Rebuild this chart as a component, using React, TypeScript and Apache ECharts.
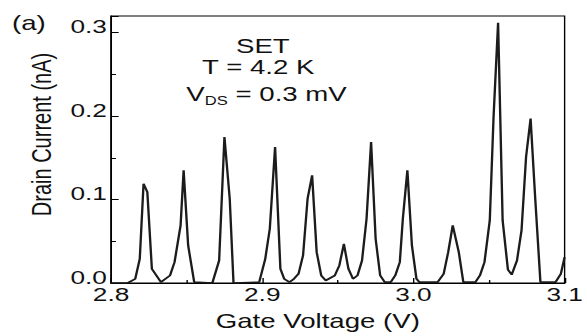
import React, { useEffect, useRef } from "react";
import * as echarts from "echarts";

// Gate voltage (V) and drain current (nA)
const voltage = [
  2.8, 2.811, 2.816, 2.819, 2.8215, 2.824, 2.827, 2.833, 2.839, 2.842, 2.846, 2.848, 2.851, 2.855,
  2.867, 2.8715, 2.875, 2.8785, 2.881, 2.898, 2.902, 2.905, 2.9085, 2.912, 2.9145, 2.918, 2.921,
  2.924, 2.927, 2.93, 2.933, 2.936, 2.939, 2.942, 2.948, 2.951, 2.954, 2.957, 2.96, 2.963, 2.966,
  2.969, 2.972, 2.975, 2.978, 2.981, 2.985, 2.988, 2.991, 2.993, 2.996, 2.999, 3.002, 3.004, 3.016,
  3.02, 3.023, 3.026, 3.03, 3.033, 3.041, 3.044, 3.047, 3.0505, 3.053, 3.056, 3.059, 3.0625, 3.065,
  3.0685, 3.0715, 3.0745, 3.0775, 3.0805, 3.084, 3.094, 3.0975, 3.1,
];
const current = [
  0, 0, 0.005, 0.029, 0.119, 0.109, 0.017, 0.001, 0.009, 0.025, 0.069, 0.135, 0.045, 0.001,
  0, 0.027, 0.175, 0.101, 0, 0.001, 0.029, 0.065, 0.163, 0.017, 0.005, 0.001, 0.005,
  0.011, 0.033, 0.101, 0.129, 0.037, 0.009, 0.003, 0.009, 0.021, 0.047, 0.017, 0.005, 0.009, 0.027,
  0.077, 0.169, 0.053, 0.009, 0.001, 0.001, 0.009, 0.025, 0.077, 0.135, 0.045, 0.005, 0.001, 0.001,
  0.011, 0.037, 0.069, 0.037, 0.001, 0.001, 0.009, 0.025, 0.075, 0.199, 0.312, 0.075, 0.016, 0.01,
  0.027, 0.063, 0.151, 0.197, 0.103, 0.001, 0.001, 0.011, 0.031,
];

const xRange = [2.8, 3.1];
const yRange = [0, 0.32];
const tickStep = 0.1;

const panelLabel = "(a)";
const noteLines = ["SET", "T = 4.2 K"];
const xTitle = "Gate Voltage (V)";
const yTitle = "Drain Current (nA)";

const FONT = "'Liberation Sans', Arial, Helvetica, sans-serif";
const INNER_W = 425;
const STRETCH = 587 / INNER_W;

export default function App() {
  const ref = useRef<HTMLDivElement>(null);

  useEffect(() => {
    if (!ref.current) return;
    const chart = echarts.init(ref.current, null, { renderer: "svg" });
    const data = voltage.map((v, i) => [v, current[i]]);
    const isMajor = (v: number) => Math.abs(v * 10 - Math.round(v * 10)) < 1e-6;

    chart.setOption({
      animation: false,
      backgroundColor: "#fff",
      textStyle: { fontFamily: FONT },
      grid: {
        left: 80.4,
        right: 14.5,
        top: 16,
        bottom: 52,
        show: true,
        borderColor: "#000",
        borderWidth: 1,
      },
      xAxis: {
        type: "value",
        min: xRange[0],
        max: xRange[1],
        interval: tickStep,
        axisLine: { show: true, lineStyle: { color: "#000", width: 1.2 } },
        axisTick: { show: true, inside: true, length: 5, lineStyle: { color: "#000", width: 1 } },
        minorTick: { show: true, splitNumber: 2, length: 3, lineStyle: { color: "#000", width: 1 } },
        splitLine: { show: false },
        minorSplitLine: { show: false },
        axisLabel: {
          fontSize: 19,
          color: "#111",
          margin: 2,
          fontFamily: FONT,
          formatter: (v: number) => (isMajor(v) ? v.toFixed(1) : ""),
        },
        name: xTitle,
        nameLocation: "middle",
        nameGap: 28,
        nameTextStyle: { fontSize: 20, color: "#111", fontFamily: FONT, padding: [0, 29, 0, 0] },
      },
      yAxis: {
        type: "value",
        min: yRange[0],
        max: yRange[1],
        interval: tickStep,
        axisLine: { show: true, lineStyle: { color: "#000", width: 1.2 } },
        axisTick: { show: true, inside: true, length: 5.5, lineStyle: { color: "#000", width: 1 } },
        minorTick: { show: true, splitNumber: 2, length: 3.5, lineStyle: { color: "#000", width: 1 } },
        splitLine: { show: false },
        minorSplitLine: { show: false },
        axisLabel: {
          fontSize: 19,
          color: "#111",
          margin: 3,
          fontFamily: FONT,
          verticalAlign: "bottom",
          lineHeight: 12,
          formatter: (v: number) => (isMajor(v) ? v.toFixed(1) : ""),
        },
        name: yTitle,
        nameLocation: "middle",
        nameGap: 37,
        nameTextStyle: { fontSize: 20, color: "#111", fontFamily: FONT, padding: [0, 0, 0, 30] },
      },
      series: [
        {
          type: "line",
          data,
          symbol: "none",
          lineStyle: { color: "#1c1c1c", width: 1.7 },
          itemStyle: { color: "#1c1c1c" },
          z: 5,
        },
      ],
      graphic: [
        {
          type: "text",
          x: 8.7,
          y: 23,
          style: { text: panelLabel, fontSize: 20, fill: "#111", fontFamily: FONT, verticalAlign: "middle" },
        },
        {
          type: "text",
          x: 190.3,
          y: 46,
          style: { text: noteLines[0], fontSize: 20, fill: "#111", fontFamily: FONT, align: "center", verticalAlign: "middle" },
        },
        {
          type: "text",
          x: 187,
          y: 66.5,
          style: { text: noteLines[1], fontSize: 20, fill: "#111", fontFamily: FONT, align: "center", verticalAlign: "middle" },
        },
        {
          type: "text",
          x: 193,
          y: 94,
          style: {
            text: "{a|V}{s|DS}{a| = 0.3 mV}",
            align: "center",
            verticalAlign: "middle",
            fontFamily: FONT,
            rich: {
              a: { fontSize: 20, lineHeight: 26, fill: "#111", fontFamily: FONT, verticalAlign: "middle" },
              s: { fontSize: 12, lineHeight: 26, fill: "#111", fontFamily: FONT, verticalAlign: "bottom" },
            },
          },
        },
      ],
    });

    return () => chart.dispose();
  }, []);

  return (
    <div
      style={{
        position: "absolute",
        left: 0,
        top: 0,
        width: 587,
        height: 336,
        overflow: "hidden",
        background: "#fff",
      }}
    >
      <div
        ref={ref}
        style={{
          width: INNER_W,
          height: 336,
          transform: `scaleX(${STRETCH})`,
          transformOrigin: "0 0",
        }}
      />
    </div>
  );
}
